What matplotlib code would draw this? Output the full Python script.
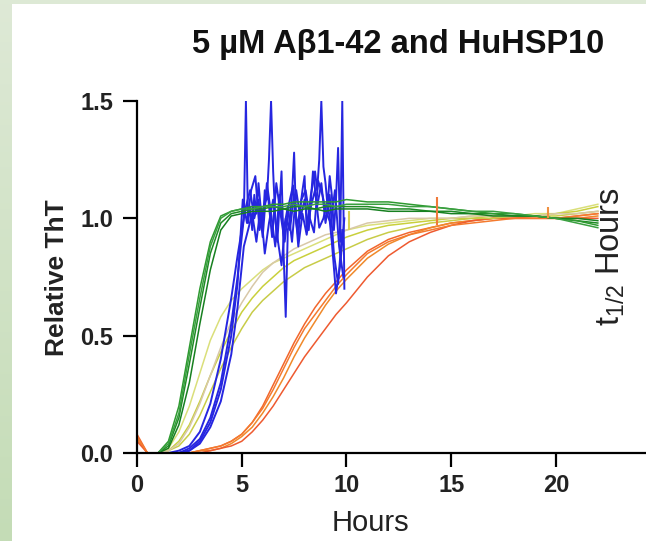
import numpy as np
import matplotlib
matplotlib.use("Agg")
import matplotlib.pyplot as plt
from matplotlib.patches import Rectangle

plt.rcParams['font.family'] = ['Liberation Sans', 'DejaVu Sans']

# common time grid (hours) for the smooth curves
hours = [0, 0.5, 1.0, 1.5, 2.0, 2.5, 3.0, 3.5, 4.0, 4.5, 5.0, 5.5, 6.0, 6.5, 7.0,
         7.5, 8.0, 8.5, 9.0, 9.5, 10, 11, 12, 13, 14, 15, 16, 17, 18, 19, 20, 21, 22]

# green replicates
green_1 = [0, 0, 0, 0.03, 0.15, 0.38, 0.62, 0.85, 0.98, 1.02, 1.03, 1.04, 1.04, 1.05, 1.04, 1.05, 1.05,
           1.04, 1.05, 1.05, 1.05, 1.05, 1.04, 1.04, 1.03, 1.03, 1.02, 1.02, 1.01, 1.01, 1.00, 0.99, 0.98]
green_2 = [0, 0, 0, 0.05, 0.20, 0.45, 0.70, 0.90, 1.01, 1.03, 1.04, 1.05, 1.05, 1.06, 1.06, 1.07, 1.07,
           1.07, 1.07, 1.07, 1.08, 1.07, 1.07, 1.06, 1.05, 1.04, 1.03, 1.02, 1.02, 1.01, 1.00, 0.99, 0.97]
green_3 = [0, 0, 0, 0.02, 0.12, 0.30, 0.55, 0.78, 0.95, 1.01, 1.02, 1.03, 1.03, 1.03, 1.04, 1.03, 1.04,
           1.04, 1.03, 1.04, 1.04, 1.04, 1.03, 1.03, 1.03, 1.02, 1.02, 1.01, 1.01, 1.01, 1.00, 1.00, 0.99]
green_4 = [0, 0, 0, 0.04, 0.17, 0.42, 0.66, 0.88, 1.00, 1.03, 1.04, 1.04, 1.05, 1.05, 1.05, 1.06, 1.05,
           1.06, 1.06, 1.05, 1.06, 1.06, 1.06, 1.05, 1.05, 1.04, 1.03, 1.03, 1.02, 1.01, 1.00, 0.98, 0.96]

# yellow replicates
yellow_1 = [0, 0, 0, 0.02, 0.09, 0.20, 0.34, 0.48, 0.58, 0.65, 0.70, 0.74, 0.78, 0.81, 0.83, 0.85, 0.87,
            0.89, 0.91, 0.93, 0.95, 0.97, 0.98, 0.99, 1.00, 1.00, 1.01, 1.01, 1.01, 1.02, 1.02, 1.04, 1.06]
yellow_2 = [0, 0, 0, 0.01, 0.05, 0.12, 0.22, 0.33, 0.43, 0.52, 0.60, 0.66, 0.71, 0.75, 0.79, 0.82, 0.84,
            0.86, 0.88, 0.90, 0.92, 0.95, 0.97, 0.98, 0.99, 1.00, 1.00, 1.01, 1.01, 1.01, 1.02, 1.03, 1.05]
yellow_3 = [0, 0, 0, 0.01, 0.03, 0.08, 0.16, 0.26, 0.36, 0.45, 0.53, 0.60, 0.65, 0.69, 0.73, 0.76, 0.79,
            0.81, 0.83, 0.85, 0.87, 0.91, 0.94, 0.96, 0.98, 0.99, 1.00, 1.00, 1.01, 1.01, 1.01, 1.02, 1.03]
pale_1 = [0, 0, 0, 0.01, 0.04, 0.11, 0.21, 0.33, 0.45, 0.56, 0.64, 0.71, 0.77, 0.81, 0.84, 0.87, 0.89,
          0.91, 0.93, 0.94, 0.95, 0.98, 0.99, 1.00, 1.00, 1.00, 1.01, 1.01, 1.01, 1.01, 1.02, 1.02, 1.03]

# orange replicates
orange_1 = [0.08, 0, 0, 0, 0, 0, 0.01, 0.02, 0.03, 0.05, 0.08, 0.13, 0.20, 0.29, 0.38, 0.47, 0.55,
            0.62, 0.68, 0.73, 0.78, 0.86, 0.91, 0.94, 0.96, 0.98, 0.99, 1.00, 1.00, 1.01, 1.00, 1.01, 1.02]
orange_2 = [0.06, 0, 0, 0, 0, 0, 0.01, 0.01, 0.02, 0.04, 0.07, 0.11, 0.17, 0.24, 0.32, 0.41, 0.49,
            0.56, 0.63, 0.69, 0.74, 0.83, 0.89, 0.93, 0.96, 0.98, 0.99, 1.00, 1.00, 1.00, 1.00, 1.00, 1.01]
orange_3 = [0.05, 0, 0, 0, 0, 0, 0, 0.01, 0.02, 0.03, 0.05, 0.09, 0.14, 0.20, 0.27, 0.34, 0.41,
            0.47, 0.53, 0.59, 0.64, 0.75, 0.84, 0.90, 0.94, 0.97, 0.99, 1.00, 1.00, 1.00, 1.00, 1.00, 1.00]
orange_4 = [0.07, 0, 0, 0, 0, 0, 0.01, 0.02, 0.03, 0.05, 0.08, 0.13, 0.19, 0.27, 0.36, 0.45, 0.53,
            0.59, 0.65, 0.71, 0.76, 0.85, 0.90, 0.93, 0.95, 0.97, 0.98, 0.99, 1.00, 1.00, 1.00, 1.01, 1.02]

# blue replicates: smooth rise, then noisy plateau until ~10 h
blue_rise_hours = [0, 0.5, 1.0, 1.5, 2.0, 2.5, 3.0, 3.5, 4.0, 4.5, 4.8]
blue_rise_1 = [0, 0, 0, 0, 0, 0.02, 0.06, 0.15, 0.30, 0.55, 0.75]
blue_rise_2 = [0, 0, 0, 0, 0.01, 0.03, 0.09, 0.21, 0.40, 0.66, 0.84]
blue_rise_3 = [0, 0, 0, 0, 0, 0.01, 0.04, 0.11, 0.22, 0.42, 0.62]
blue_rise_4 = [0, 0, 0, 0, 0, 0.01, 0.05, 0.13, 0.27, 0.50, 0.72]

blue_hours_1 = [5.0, 5.1, 5.2, 5.3, 5.4, 5.5, 5.6, 5.7, 5.8, 5.9, 6.0, 6.1, 6.2, 6.3, 6.4, 6.5, 6.6,
                6.7, 6.8, 6.9, 7.0, 7.1, 7.2, 7.3, 7.4, 7.5, 7.6, 7.7, 7.8, 7.9, 8.0, 8.1, 8.2, 8.3,
                8.4, 8.5, 8.6, 8.7, 8.8, 8.9, 9.0, 9.1, 9.2, 9.3, 9.4, 9.5, 9.6, 9.7, 9.8, 9.9]
blue_noisy_1 = [0.92, 1.00, 1.50, 0.98, 1.05, 0.95, 1.10, 1.02, 1.15, 1.05, 0.96, 1.12, 1.08, 1.25,
                1.50, 1.20, 1.00, 0.90, 1.05, 1.20, 0.85, 0.58, 0.95, 1.00, 1.10, 1.28, 0.98, 0.92,
                1.05, 1.12, 1.18, 0.95, 1.02, 1.10, 1.15, 1.20, 1.12, 1.25, 1.50, 1.22, 1.15, 1.05,
                1.18, 1.10, 0.95, 1.08, 1.30, 0.90, 1.50, 0.70]
blue_hours_2 = [5.0, 5.2, 5.4, 5.6, 5.8, 6.0, 6.2, 6.4, 6.6, 6.8, 7.0, 7.2, 7.4, 7.6, 7.8, 8.0, 8.2,
                8.4, 8.6, 8.8, 9.0, 9.2, 9.4, 9.6, 9.8]
blue_noisy_2 = [0.95, 1.05, 1.12, 1.00, 1.08, 0.92, 1.15, 1.02, 0.88, 1.10, 0.95, 1.05, 0.90, 1.12,
                1.00, 1.08, 0.95, 1.20, 1.05, 1.15, 0.98, 1.10, 0.85, 0.72, 0.95]
blue_hours_3 = [5.1, 5.3, 5.5, 5.7, 5.9, 6.1, 6.3, 6.5, 6.7, 6.9, 7.1, 7.3, 7.5, 7.7, 7.9, 8.1, 8.3,
                8.5, 8.7, 8.9, 9.1, 9.3, 9.5, 9.7, 9.9]
blue_noisy_3 = [0.88, 0.95, 1.02, 0.90, 1.05, 0.85, 0.98, 1.08, 0.92, 0.80, 1.00, 0.95, 1.10, 0.88,
                1.02, 0.93, 1.05, 1.12, 0.96, 1.00, 1.08, 0.90, 0.68, 0.80, 1.00]
blue_hours_4 = [5.05, 5.25, 5.45, 5.65, 5.85, 6.05, 6.25, 6.45, 6.65, 6.85, 7.05, 7.25, 7.45, 7.65,
                7.85, 8.05, 8.25, 8.45, 8.65, 8.85, 9.05, 9.25, 9.45, 9.65, 9.85]
blue_noisy_4 = [1.08, 0.98, 1.12, 1.18, 0.95, 1.05, 1.10, 0.92, 1.15, 1.02, 0.90, 1.06, 1.14, 0.96,
                1.08, 1.12, 1.00, 0.94, 1.16, 1.10, 1.02, 0.98, 1.12, 0.88, 0.75]

# single-read spikes (time, low, high)
spike_hours = [14.3, 19.6, 10.1]
spike_low = [0.97, 1.00, 0.95]
spike_high = [1.09, 1.05, 1.03]
spike_colors = ['#f07a3a', '#f09040', '#d8d050']

fig = plt.figure(figsize=(6.46, 5.41), dpi=100)

# slide background strips
strip = fig.add_axes([0, 0, 12 / 646, 1])
grad = np.linspace(0, 1, 256).reshape(-1, 1)
top_col = np.array([222, 233, 214]) / 255
bot_col = np.array([196, 220, 182]) / 255
img = top_col + grad[:, :, None] * (bot_col - top_col)
strip.imshow(img, aspect='auto', extent=[0, 1, 0, 1])
strip.axis('off')
fig.patches.append(Rectangle((0, 1 - 4 / 541), 1, 4 / 541, transform=fig.transFigure,
                             facecolor='#dde9d5', edgecolor='none'))

ax = fig.add_axes([137 / 646, 88 / 541, 509 / 646, 352 / 541])

for vals, c in [(orange_1, '#f2662c'), (orange_2, '#f0892a'), (orange_3, '#ee5a30'), (orange_4, '#f47a2e')]:
    ax.plot(hours, vals, color=c, lw=1.1)
for vals, c in [(yellow_1, '#dadf7a'), (yellow_2, '#c9d03c'), (yellow_3, '#c8cc48'), (pale_1, '#d8c8a8')]:
    ax.plot(hours, vals, color=c, lw=1.1)
for rise, th, noisy in [(blue_rise_1, blue_hours_1, blue_noisy_1),
                        (blue_rise_2, blue_hours_2, blue_noisy_2),
                        (blue_rise_3, blue_hours_3, blue_noisy_3),
                        (blue_rise_4, blue_hours_4, blue_noisy_4)]:
    ax.plot(blue_rise_hours + th, rise + noisy, color='#2626e0', lw=1.4)
for vals, c in [(green_1, '#1f8a25'), (green_2, '#2e9a30'), (green_3, '#178020'), (green_4, '#3aa040')]:
    ax.plot(hours, vals, color=c, lw=1.1)
ax.vlines(spike_hours, spike_low, spike_high, colors=spike_colors, lw=1.5)

ax.set_xlim(0, 24.3)
ax.set_ylim(0, 1.5)
ax.set_xticks([0, 5, 10, 15, 20])
ax.set_yticks([0.0, 0.5, 1.0, 1.5])
ax.set_yticklabels(['0.0', '0.5', '1.0', '1.5'])
for s in ['top', 'right']:
    ax.spines[s].set_visible(False)
for s in ['left', 'bottom']:
    ax.spines[s].set_linewidth(1.6)
ax.tick_params(length=10, width=1.6, labelsize=17)
ax.tick_params(axis='y', pad=7)
ax.tick_params(axis='x', pad=5)
for lab in ax.get_xticklabels() + ax.get_yticklabels():
    lab.set_fontweight('bold')
    lab.set_color('#222222')

ax.set_xlabel('Hours', fontsize=21, color='#222222')
ax.xaxis.set_label_coords((370 - 137) / 509, (453 - 523) / 352)
ax.xaxis.label.set_va('center')
ax.set_ylabel('Relative ThT', fontsize=19, fontweight='bold', color='#222222')
ax.yaxis.set_label_coords((57 - 137) / 509, (453 - 278) / 352)
ax.yaxis.label.set_va('center')
fig.text(398 / 646, 1 - 44 / 541, '5 µM Aβ1-42 and HuHSP10', ha='center', va='center',
         fontsize=23.5, fontweight='bold', color='#111111')
fig.text(611 / 646, 1 - 257 / 541, r'$\mathregular{t_{1/2}}$ Hours', ha='center', va='center',
         rotation=90, fontsize=23.5, color='#222222')

fig.savefig('out.png', dpi=100)
